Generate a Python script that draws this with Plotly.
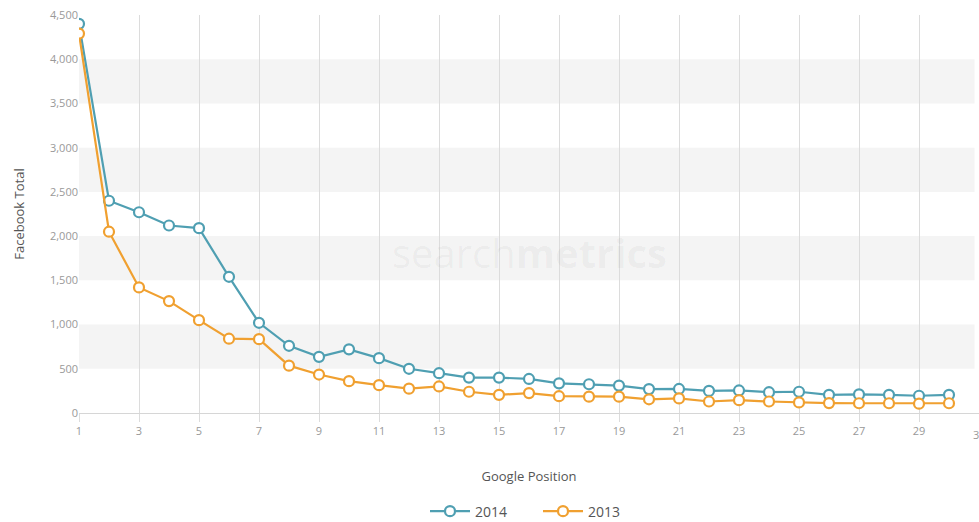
import plotly.graph_objects as go

positions = list(range(1, 31))
fb_2014 = [4400, 2400, 2270, 2120, 2090, 1540, 1020, 760, 635, 720,
           620, 500, 450, 400, 400, 385, 335, 325, 310, 270,
           272, 250, 255, 235, 240, 205, 210, 205, 195, 205]
fb_2013 = [4290, 2050, 1420, 1265, 1050, 840, 835, 535, 435, 360,
           315, 275, 300, 240, 205, 225, 190, 185, 185, 155,
           165, 130, 145, 130, 120, 112, 110, 110, 105, 110]
x_ticks = list(range(1, 32, 2))
y_ticks = list(range(0, 4501, 500))
bands = [(500, 1000), (1500, 2000), (2500, 3000), (3500, 4000)]

teal = "#4f9fb2"
orange = "#f0a030"

fig = go.Figure()
fig.add_trace(go.Scatter(
    x=positions, y=fb_2014, name="2014", mode="lines+markers",
    line=dict(color=teal, width=2.2),
    marker=dict(symbol="circle", size=10, color="white", line=dict(color=teal, width=2.2)),
))
fig.add_trace(go.Scatter(
    x=positions, y=fb_2013, name="2013", mode="lines+markers",
    line=dict(color=orange, width=2.2),
    marker=dict(symbol="circle", size=10, color="white", line=dict(color=orange, width=2.2)),
))

shapes = []
for y0, y1 in bands:
    shapes.append(dict(type="rect", xref="paper", yref="y", x0=0, x1=0.995, y0=y0, y1=y1,
                       fillcolor="#f4f4f4", line=dict(width=0), layer="below"))

fig.update_layout(
    width=979, height=522,
    margin=dict(l=79, r=0, t=15, b=109),
    plot_bgcolor="white", paper_bgcolor="white",
    font=dict(family="Open Sans, sans-serif", color="#999"),
    shapes=shapes,
    showlegend=True,
    legend=dict(orientation="h", x=0.51, xanchor="center", yref="container", y=0.02, yanchor="middle",
                font=dict(size=14, color="#555"), itemwidth=40, traceorder="normal",
                entrywidth=58, entrywidthmode="pixels"),
    annotations=[
        dict(text="search<b>metrics</b>", x=0.5, y=0.33, xref="paper", yref="paper",
             showarrow=False, font=dict(size=40, color="rgba(0,0,0,0.045)", family="Open Sans")),
        dict(text="31", x=31, y=0, xref="x", yref="y", yanchor="top", yshift=-12,
             showarrow=False, font=dict(size=11, color="#999")),
    ],
)
fig.update_xaxes(
    range=[1, 31], tickvals=x_ticks, ticktext=[str(v) for v in x_ticks],
    showgrid=True, gridcolor="#dcdcdc", gridwidth=1,
    ticks="outside", ticklen=8, tickcolor="#dcdcdc",
    showline=True, linecolor="#d6d6d6", linewidth=1,
    zeroline=False, tickfont=dict(size=11, color="#999"),
    title=dict(text="Google Position", font=dict(size=13, color="#555"), standoff=34),
)
fig.update_yaxes(
    range=[0, 4500], tickvals=y_ticks, tickformat=",",
    showgrid=False, zeroline=False, showline=False,
    ticks="", tickfont=dict(size=11, color="#999"),
    title=dict(text="Facebook Total", font=dict(size=13, color="#555"), standoff=22),
)

fig.write_html("out.html")
